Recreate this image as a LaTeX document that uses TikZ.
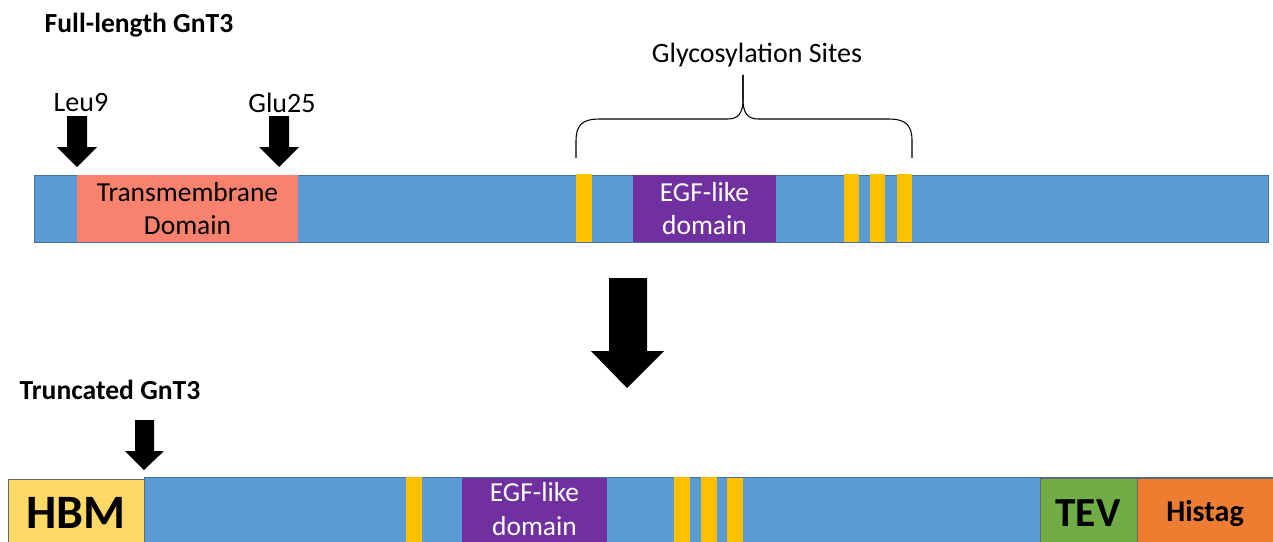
\documentclass[tikz,border=0pt]{standalone}
\usepackage{fontspec}
\setmainfont{Carlito}
\definecolor{barblue}{HTML}{5B9BD5}
\definecolor{barline}{HTML}{41719C}
\definecolor{tmred}{HTML}{F8826D}
\definecolor{egfpurple}{HTML}{7030A0}
\definecolor{glyc}{HTML}{FFC000}
\definecolor{hbmyellow}{HTML}{FFD966}
\definecolor{tevgreen}{HTML}{70AD47}
\definecolor{hisorange}{HTML}{ED7D31}
\tikzset{
  seg/.style={inner sep=0pt, outer sep=0pt, anchor=north west},
  blockarrow/.style={fill=black, draw=none},
  lbl/.style={inner sep=0pt, font=\fontsize{21}{24}\selectfont},
  title/.style={inner sep=0pt, font=\fontsize{20.7}{24}\selectfont\bfseries},
  domtext/.style={align=center, font=\fontsize{20.6}{25}\selectfont},
}
% coordinates are given in pixels, y growing downwards
\begin{document}
\begin{tikzpicture}[x=0.75pt,y=-0.75pt]
\useasboundingbox (0,0) rectangle (1273,542);

% ---------- full-length protein ----------
\node[title] (t1) at (139,25) {Full-length GnT3};

\node[seg, fill=barblue, draw=barline, line width=0.6pt,
      minimum width=1234*0.75pt, minimum height=67*0.75pt] (bar1) at (34,175) {};
\node[seg, fill=tmred, minimum width=221*0.75pt, minimum height=67*0.75pt,
      domtext, text=black] (tm) at (77,175) {Transmembrane\\Domain};
\node[seg, fill=glyc, minimum width=16*0.75pt, minimum height=68*0.75pt] (g1) at (576,174) {};
\node[seg, fill=egfpurple, minimum width=143*0.75pt, minimum height=67*0.75pt,
      domtext, text=white] (egf1) at (633,175) {EGF-like\\domain};
\node[seg, fill=glyc, minimum width=15*0.75pt, minimum height=68*0.75pt] (g2) at (844,174) {};
\node[seg, fill=glyc, minimum width=15*0.75pt, minimum height=68*0.75pt] (g3) at (870,174) {};
\node[seg, fill=glyc, minimum width=15*0.75pt, minimum height=68*0.75pt] (g4) at (897,174) {};

% cleavage markers
\node[lbl] (leu) at (81,103) {Leu9};
\node[lbl] (glu) at (282,103) {Glu25};
\fill[blockarrow] (67,116) -- (87,116) -- (87,147) -- (97,147) -- (77,167) -- (57,147) -- (67,147) -- cycle;
\fill[blockarrow] (269,116) -- (289,116) -- (289,147) -- (299,147) -- (279,167) -- (259,147) -- (269,147) -- cycle;

% glycosylation brace
\node[lbl] (gs) at (757,55) {Glycosylation Sites};
\draw[line width=0.8pt] (576,158) -- (576,141) .. controls (576,125) and (582,119) .. (600,119)
  -- (728,119) .. controls (738,119) and (743,113) .. (743,100) -- (743,75);
\draw[line width=0.8pt] (743,75) -- (743,100) .. controls (743,113) and (748,119) .. (758,119)
  -- (888,119) .. controls (906,119) and (912,125) .. (912,141) -- (912,158);

% ---------- transition arrow ----------
\fill[blockarrow] (609,278) -- (647,278) -- (647,351) -- (664,351) -- (627,388) -- (591,351) -- (609,351) -- cycle;

% ---------- truncated construct ----------
\node[title] (t2) at (110,390) {Truncated GnT3};
\fill[blockarrow] (135,420) -- (154,420) -- (154,451) -- (164,451) -- (144,470) -- (125,451) -- (135,451) -- cycle;

\node[seg, fill=barblue, draw=barline, line width=0.6pt,
      minimum width=1140*0.75pt, minimum height=70*0.75pt] (bar2) at (144,477) {};
\node[seg, fill=hbmyellow, draw=black!60, line width=0.6pt,
      minimum width=136*0.75pt, minimum height=70*0.75pt] (hbm) at (8,479) {};
\node[font=\fontsize{36}{40}\selectfont\bfseries, inner sep=0pt] (hbmt) at (76,513) {HBM};
\node[seg, fill=glyc, minimum width=16*0.75pt, minimum height=70*0.75pt] (h1) at (406,477) {};
\node[seg, fill=egfpurple, minimum width=145*0.75pt, minimum height=70*0.75pt] (egf2) at (462,478) {};
\node[domtext, text=white, inner sep=0pt] (egf2t) at (534.5,509) {EGF-like\\domain};
\node[seg, fill=glyc, minimum width=16*0.75pt, minimum height=70*0.75pt] (h2) at (674,477) {};
\node[seg, fill=glyc, minimum width=16*0.75pt, minimum height=70*0.75pt] (h3) at (701,477) {};
\node[seg, fill=glyc, minimum width=16*0.75pt, minimum height=70*0.75pt] (h4) at (727,478) {};
\node[seg, fill=tevgreen, draw=black!60, line width=0.6pt,
      minimum width=97*0.75pt, minimum height=70*0.75pt] (tev) at (1040,478) {};
\node[font=\fontsize{31}{36}\selectfont\bfseries, inner sep=0pt] (tevt) at (1088,513) {TEV};
\node[seg, fill=hisorange, draw=black!60, line width=0.6pt,
      minimum width=140*0.75pt, minimum height=70*0.75pt] (his) at (1137,478) {};
\node[font=\fontsize{22.6}{26}\selectfont\bfseries, inner sep=0pt] (hist) at (1205,513) {Histag};
\end{tikzpicture}
\end{document}
